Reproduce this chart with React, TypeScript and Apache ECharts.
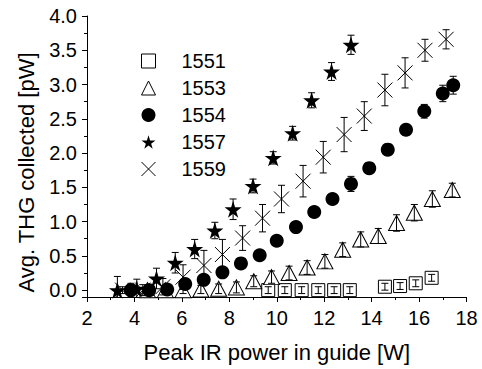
import React, { useEffect, useRef } from "react";
import * as echarts from "echarts";

const FONT = "'Liberation Sans', Arial, Helvetica, sans-serif";

const names = ["1551", "1553", "1554", "1557", "1559"];

// 1551 (open squares)
const x1551 = [9.64, 10.34, 11.05, 11.75, 12.42, 13.08, 14.56, 15.2, 15.86, 16.53];
const y1551 = [0.0, 0.0, 0.0, 0.0, 0.0, 0.0, 0.05, 0.06, 0.1, 0.18];
const e1551 = [0.05, 0.05, 0.05, 0.05, 0.05, 0.05, 0.05, 0.05, 0.05, 0.05];

// 1553 (open triangles)
const x1553 = [4.55, 5.3, 6.05, 6.8, 7.55, 8.3, 9.03, 9.78, 10.52, 11.28, 12.03, 12.78, 13.54, 14.28, 15.05, 15.8, 16.56, 17.4];
const y1553 = [0.0, 0.0, 0.0, 0.01, 0.02, 0.04, 0.13, 0.19, 0.25, 0.33, 0.42, 0.59, 0.74, 0.79, 0.98, 1.13, 1.33, 1.46];
const e1553 = [0.05, 0.05, 0.05, 0.06, 0.07, 0.08, 0.08, 0.09, 0.1, 0.1, 0.1, 0.1, 0.11, 0.11, 0.12, 0.12, 0.12, 0.1];

// 1554 (filled circles)
const x1554 = [3.85, 4.62, 5.38, 6.14, 6.92, 7.71, 8.49, 9.28, 10.0, 10.81, 11.58, 12.35, 13.13, 13.9, 14.68, 15.45, 16.22, 17.0, 17.44];
const y1554 = [0.0, 0.0, 0.01, 0.09, 0.15, 0.26, 0.39, 0.51, 0.72, 0.92, 1.14, 1.33, 1.55, 1.78, 2.05, 2.34, 2.61, 2.87, 2.99];
const e1554 = [0.1, 0.08, 0.06, 0.07, 0.07, 0.07, 0.07, 0.07, 0.07, 0.07, 0.07, 0.08, 0.11, 0.08, 0.08, 0.08, 0.1, 0.12, 0.13];

// 1557 (filled stars)
const x1557 = [3.28, 4.1, 4.93, 5.72, 6.54, 7.39, 8.16, 9.0, 9.85, 10.67, 11.47, 12.31, 13.13];
const y1557 = [0.0, 0.02, 0.17, 0.4, 0.6, 0.87, 1.18, 1.52, 1.93, 2.29, 2.77, 3.19, 3.58];
const e1557 = [0.2, 0.14, 0.15, 0.15, 0.14, 0.12, 0.15, 0.1, 0.09, 0.1, 0.11, 0.13, 0.14];

// 1559 (crosses)
const x1559 = [3.5, 4.35, 5.2, 6.05, 6.93, 7.71, 8.56, 9.4, 10.2, 11.11, 11.96, 12.84, 13.69, 14.56, 15.41, 16.25, 17.14];
const y1559 = [0.0, 0.0, 0.05, 0.19, 0.36, 0.52, 0.76, 1.05, 1.33, 1.59, 1.94, 2.27, 2.54, 2.92, 3.17, 3.5, 3.66];
const e1559 = [0.05, 0.08, 0.12, 0.18, 0.22, 0.22, 0.18, 0.2, 0.2, 0.23, 0.23, 0.25, 0.21, 0.23, 0.22, 0.16, 0.14];

const STAR = "path://M50,0L61,35L98,35L68,57L79,91L50,70L21,91L32,57L2,35L39,35Z";
const CROSS = "path://M0,0L10,10M10,0L0,10";

const zip = (xs: number[], ys: number[], es?: number[]) =>
  xs.map((x, i) => (es ? [x, ys[i], es[i]] : [x, ys[i]]));

const styles: any[] = [
  { symbol: "rect", symbolSize: 13, itemStyle: { color: "#fff", borderColor: "#000", borderWidth: 1, opacity: 1 } },
  { symbol: "triangle", symbolSize: [16, 15], itemStyle: { color: "#fff", borderColor: "#000", borderWidth: 1, opacity: 1 } },
  { symbol: "circle", symbolSize: 14, itemStyle: { color: "#000", borderColor: "#000", borderWidth: 0, opacity: 1 } },
  { symbol: STAR, symbolSize: 17, itemStyle: { color: "#000", borderColor: "#000", borderWidth: 0, opacity: 1 } },
  { symbol: CROSS, symbolSize: 15, itemStyle: { color: "rgba(0,0,0,0)", borderColor: "#000", borderWidth: 1, opacity: 1 } },
];

const sets = [
  [x1551, y1551, e1551],
  [x1553, y1553, e1553],
  [x1554, y1554, e1554],
  [x1557, y1557, e1557],
  [x1559, y1559, e1559],
];

export default function App() {
  const ref = useRef<HTMLDivElement>(null);
  useEffect(() => {
    if (!ref.current) return;
    const chart = echarts.init(ref.current, null, { renderer: "svg" });

    const scatter = sets.map((s, i) => ({
      type: "scatter",
      name: names[i],
      data: zip(s[0], s[1]),
      symbol: styles[i].symbol,
      symbolSize: styles[i].symbolSize,
      itemStyle: styles[i].itemStyle,
      z: 2 + i,
      clip: true,
    }));

    const errs = sets.map((s, i) => ({
      type: "custom",
      name: "err" + names[i],
      data: zip(s[0], s[1], s[2]),
      encode: { x: 0, y: 1 },
      clip: true,
      z: 10,
      renderItem: (params: any, api: any) => {
        const x = api.value(0);
        const y = api.value(1);
        const e = api.value(2);
        const t = api.coord([x, y + e]);
        const b = api.coord([x, y - e]);
        const w = 3.5;
        const st = { stroke: "#000", lineWidth: 1 };
        return {
          type: "group",
          children: [
            { type: "line", shape: { x1: t[0], y1: t[1], x2: b[0], y2: b[1] }, style: st },
            { type: "line", shape: { x1: t[0] - w, y1: t[1], x2: t[0] + w, y2: t[1] }, style: st },
            { type: "line", shape: { x1: b[0] - w, y1: b[1], x2: b[0] + w, y2: b[1] }, style: st },
          ],
        };
      },
    }));

    chart.setOption({
      animation: false,
      backgroundColor: "#fff",
      textStyle: { fontFamily: FONT, color: "#000" },
      grid: { left: 87, top: 16, right: 15.5, bottom: 72, outerBoundsMode: "none" },
      legend: {
        orient: "vertical",
        left: 136,
        top: 46,
        itemWidth: 14,
        itemHeight: 14,
        itemGap: 7,
        selectedMode: false,
        textStyle: { fontFamily: FONT, fontSize: 20, color: "#000", lineHeight: 20, padding: [0, 0, 0, 21] },
        data: names.map((n, i) => ({ name: n, icon: styles[i].symbol, itemStyle: styles[i].itemStyle })),
      },
      xAxis: {
        type: "value",
        min: 2,
        max: 18,
        interval: 2,
        name: "Peak IR power in guide [W]",
        nameLocation: "middle",
        nameGap: 44,
        nameTextStyle: { fontFamily: FONT, fontSize: 22, color: "#000" },
        axisLine: { show: true, onZero: false, lineStyle: { color: "#000", width: 1 } },
        axisTick: { show: true, inside: false, length: 5, lineStyle: { color: "#000" } },
        minorTick: { show: true, splitNumber: 2, length: 3, lineStyle: { color: "#000" } },
        axisLabel: { fontFamily: FONT, fontSize: 20, color: "#000", margin: 11 },
        splitLine: { show: false },
        minorSplitLine: { show: false },
      },
      yAxis: {
        type: "value",
        min: -0.1,
        max: 4.0,
        splitNumber: 8,
        minInterval: 0.5,
        maxInterval: 0.5,
        name: "Avg. THG collected [pW]",
        nameLocation: "middle",
        nameRotate: 90,
        nameGap: 50,
        nameTextStyle: { fontFamily: FONT, fontSize: 22, color: "#000", padding: [0, 32, 0, 0] },
        axisLine: { show: true, onZero: false, lineStyle: { color: "#000", width: 1 } },
        axisTick: { show: true, inside: false, length: 5, lineStyle: { color: "#000" } },
        minorTick: { show: true, splitNumber: 2, length: 3, lineStyle: { color: "#000" } },
        axisLabel: {
          fontFamily: FONT,
          fontSize: 20,
          color: "#000",
          margin: 10,
          formatter: (v: number) => (v < -0.01 ? "" : v.toFixed(1)),
        },
        splitLine: { show: false },
        minorSplitLine: { show: false },
      },
      series: [...scatter, ...errs],
    });
    return () => chart.dispose();
  }, []);
  return (
    <div
      ref={ref}
      style={{ position: "fixed", left: 0, top: 0, width: 482, height: 369, background: "#fff" }}
    />
  );
}
